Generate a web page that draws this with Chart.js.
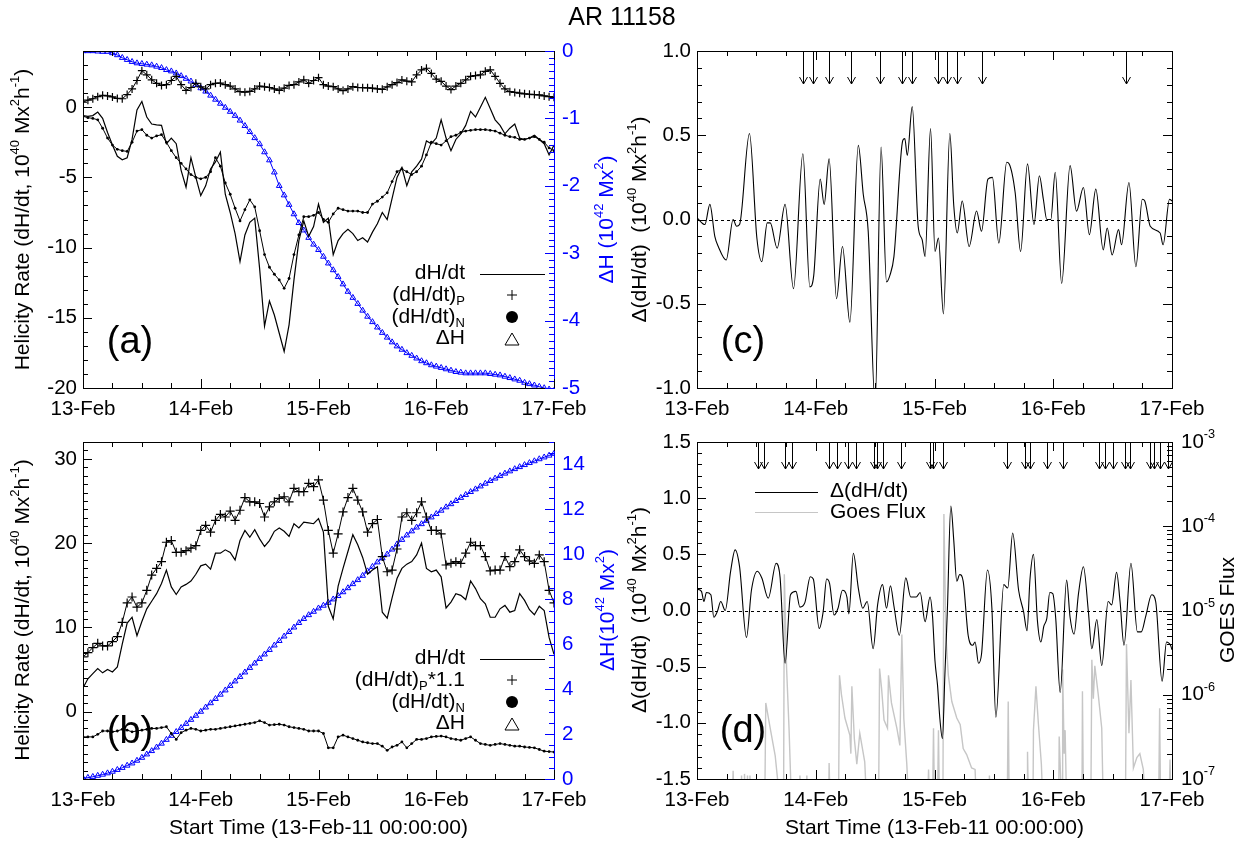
<!DOCTYPE html>
<html>
<head>
<meta charset="utf-8">
<title>AR 11158</title>
<script src="https://cdn.jsdelivr.net/npm/chart.js@4.4.1/dist/chart.umd.min.js"></script>
<style>
  html, body { margin: 0; padding: 0; background: #fff; }
  #wrap { position: relative; width: 1245px; height: 842px; overflow: hidden; background: #fff; }
  #wrap canvas { position: absolute; left: 0; top: 0; }
</style>
</head>
<body>
<div id="wrap">
  <canvas id="chartA" width="1245" height="842"></canvas>
  <canvas id="chartB" width="1245" height="842"></canvas>
  <canvas id="chartC" width="1245" height="842"></canvas>
  <canvas id="chartD" width="1245" height="842"></canvas>
</div>
<script>
// hours after 13-Feb-11 00:00, hourly samples for panels (a) and (b)
let hours = Array.from({length: 97}, (_, i) => i);
let dayTicks = [0, 24, 48, 72, 96];
let dayLabels = ['13-Feb', '14-Feb', '15-Feb', '16-Feb', '17-Feb'];

// panel (a)
let rateA = [-0.6, -0.65, -0.6, -0.35, -0.8, -1.8, -2.7, -3.5, -3.75, -3.6,
  -2.3, -0.2, 0.4, -0.7, -1.2, -1.26, -1.3, -2.6, -2.2, -2.6,
  -4.5, -5.7, -3.6, -5.0, -6.3, -5.6, -4.4, -3.9, -3.2, -6.2,
  -7.5, -9.0, -11.0, -9.1, -8.2, -7.9, -11.5, -15.6, -13.8, -14.8,
  -16.1, -17.4, -15.5, -12.3, -9.5, -8.1, -9.2, -8.5, -6.9, -8.2,
  -7.9, -10.5, -9.5, -9.0, -8.7, -9.0, -9.5, -9.3, -9.6, -8.9,
  -8.3, -7.5, -8.0, -6.5, -5.0, -4.3, -5.6, -4.6, -4.2, -3.7,
  -2.4, -2.6, -2.2, -0.9, -2.2, -3.1, -2.3, -1.9, -1.3, -0.3,
  -0.7, 0.0, 0.7, -0.1, -0.9, -1.3, -1.9, -1.5, -1.2, -2.2,
  -2.3, -2.2, -2.0, -2.3, -2.6, -3.4, -2.7];
let posA = [0.35, 0.5, 0.6, 0.75, 0.85, 0.8, 0.73, 0.62, 0.6, 0.9,
  1.3, 1.9, 2.6, 2.3, 1.95, 1.7, 1.55, 1.6, 1.9, 2.2,
  1.6, 1.2, 1.4, 1.7, 1.45, 1.3, 1.6, 1.7, 1.72, 1.6,
  1.5, 1.3, 1.1, 1.07, 1.12, 1.3, 1.5, 1.45, 1.4, 1.3,
  1.2, 1.35, 1.55, 1.6, 1.8, 1.95, 1.7, 1.9, 2.1, 1.6,
  1.5, 1.46, 1.3, 1.18, 1.3, 1.46, 1.4, 1.39, 1.38, 1.35,
  1.3, 1.27, 1.45, 1.6, 1.75, 1.94, 1.85, 1.8, 2.3, 2.65,
  2.77, 2.4, 2.0, 1.84, 1.5, 1.25, 1.5, 1.7, 1.95, 2.2,
  2.25, 2.3, 2.55, 2.65, 2.2, 1.7, 1.3, 1.1, 1.05, 1.0,
  0.95, 0.92, 0.9, 0.87, 0.8, 0.75, 0.7];
let negA = [-0.65, -0.75, -0.8, -0.9, -1.5, -2.2, -2.7, -3.0, -3.1, -3.15,
  -2.5, -1.7, -1.6, -2.0, -2.2, -2.05, -1.96, -2.5, -3.1, -3.6,
  -4.0, -4.4, -4.8, -5.0, -5.1, -5.0, -4.6, -3.6, -4.2, -5.4,
  -6.2, -7.2, -8.1, -7.3, -6.6, -7.1, -8.8, -10.5, -11.4, -11.9,
  -12.3, -12.9, -12.2, -10.5, -9.1, -7.8, -7.8, -7.7, -7.5, -8.0,
  -8.2, -7.6, -7.2, -7.3, -7.4, -7.4, -7.4, -7.5, -7.5, -6.9,
  -6.7, -6.4, -6.1, -5.3, -4.6, -4.4, -4.6, -4.8, -4.6, -4.2,
  -3.4, -2.5, -2.6, -2.7, -2.4, -2.1, -2.0, -1.8, -1.7, -1.65,
  -1.6, -1.6, -1.6, -1.65, -1.7, -1.85, -2.0, -2.1, -2.15, -2.3,
  -2.3, -2.2, -2.1, -2.3, -2.5, -2.9, -3.1];
let accA = [0, 0, 0, -0.005, -0.01, -0.01, -0.03, -0.06, -0.1, -0.13,
  -0.16, -0.18, -0.19, -0.2, -0.21, -0.23, -0.25, -0.28, -0.3, -0.33,
  -0.37, -0.41, -0.45, -0.5, -0.55, -0.6, -0.66, -0.72, -0.78, -0.84,
  -0.9, -0.96, -1.03, -1.11, -1.2, -1.29, -1.38, -1.5, -1.62, -1.8,
  -2.0, -2.14, -2.28, -2.42, -2.55, -2.66, -2.77, -2.87, -2.95, -3.05,
  -3.15, -3.25, -3.35, -3.46, -3.57, -3.66, -3.75, -3.85, -3.94, -4.02,
  -4.1, -4.18, -4.25, -4.32, -4.38, -4.43, -4.48, -4.52, -4.56, -4.6,
  -4.63, -4.66, -4.68, -4.7, -4.72, -4.74, -4.76, -4.77, -4.78, -4.78,
  -4.78, -4.78, -4.78, -4.79, -4.8, -4.81, -4.83, -4.85, -4.87, -4.89,
  -4.92, -4.94, -4.96, -4.98, -5.0, -5.02, -5.04];

// panel (b)
let rateB = [2.8, 3.9, 4.5, 5.1, 4.6, 5.0, 4.7, 5.3, 8.0, 10.5,
  11.2, 9.0, 10.7, 12.2, 13.1, 14.0, 15.2, 16.8, 14.8, 13.9,
  14.8, 15.1, 15.5, 16.3, 17.3, 17.5, 16.9, 18.8, 18.8, 19.2,
  18.9, 18.0, 20.3, 21.5, 20.7, 21.6, 20.5, 19.6, 20.3, 21.4,
  21.8, 21.4, 20.8, 22.3, 21.8, 22.5, 22.4, 22.3, 22.9, 21.3,
  12.5, 11.0, 14.9, 17.0, 19.0, 21.0, 19.8, 18.3, 16.3, 16.8,
  17.2, 11.8, 11.1, 13.5, 15.8, 17.0, 17.5, 17.8, 18.6, 20.0,
  17.0, 16.6, 16.8, 16.0, 12.3, 13.0, 14.0, 13.8, 13.3, 15.5,
  14.6, 13.4, 12.8, 11.2, 11.2, 12.2, 12.6, 11.8, 12.0, 14.0,
  13.2, 12.1, 11.5, 12.5, 12.0, 8.8, 6.8];
let posB = [6.5, 7.0, 7.6, 8.1, 7.8, 7.8, 8.3, 8.9, 10.6, 12.9,
  13.6, 12.4, 12.9, 14.4, 16.2, 17.0, 17.8, 20.1, 20.3, 18.9,
  18.9, 19.1, 19.4, 19.7, 21.5, 22.1, 21.3, 22.7, 23.4, 23.1,
  23.8, 22.7, 23.9, 25.4, 24.9, 24.9, 24.7, 23.1, 24.3, 24.9,
  25.3, 25.5, 24.9, 26.5, 26.1, 26.1, 27.1, 26.7, 27.5, 25.1,
  21.5, 18.8, 21.1, 23.7, 25.4, 26.5, 25.1, 23.7, 21.3, 22.3,
  22.8, 18.4, 16.6, 16.8, 19.3, 23.1, 23.6, 22.7, 23.6, 24.9,
  23.1, 21.5, 21.5, 21.1, 17.4, 17.6, 17.8, 17.6, 18.8, 20.1,
  19.7, 19.7, 18.4, 16.7, 16.8, 16.8, 18.4, 17.2, 17.8, 19.2,
  18.4, 17.9, 17.6, 18.6, 17.8, 14.4, 12.9];
let negB = [-3.0, -3.0, -3.0, -2.7, -2.3, -2.3, -2.4, -2.3, -2.1, -2.2,
  -2.4, -2.3, -2.2, -2.1, -2.0, -2.0, -1.9, -1.8, -2.6, -3.3,
  -2.5, -2.2, -2.0, -2.1, -2.3, -2.2, -2.1, -2.1, -2.0, -1.9,
  -1.8, -1.7, -1.6, -1.5, -1.4, -1.3, -1.1, -1.3, -1.6, -1.55,
  -1.5, -1.6, -1.8, -1.9, -2.0, -2.1, -2.3, -2.3, -2.3, -2.6,
  -4.3, -4.3, -3.0, -2.8, -3.0, -3.2, -3.4, -3.6, -3.7, -3.8,
  -3.8, -4.1, -4.6, -4.2, -4.0, -3.6, -4.3, -3.8, -3.3, -3.3,
  -3.2, -3.0, -2.95, -2.9, -3.0, -3.2, -3.3, -3.4, -3.2, -3.0,
  -3.4, -3.8, -3.9, -4.0, -3.9, -3.8, -3.9, -4.0, -4.1, -4.1,
  -4.2, -4.25, -4.3, -4.5, -4.7, -4.75, -4.8];
let accB = [0.03, 0.06, 0.1, 0.15, 0.2, 0.26, 0.33, 0.41, 0.5, 0.6,
  0.7, 0.82, 0.95, 1.1, 1.25, 1.41, 1.58, 1.75, 1.93, 2.1,
  2.28, 2.46, 2.64, 2.82, 3.0, 3.19, 3.38, 3.57, 3.76, 3.95,
  4.15, 4.35, 4.55, 4.75, 4.95, 5.15, 5.35, 5.55, 5.75, 5.95,
  6.15, 6.35, 6.55, 6.75, 6.95, 7.13, 7.3, 7.45, 7.6, 7.72,
  7.85, 8.0, 8.15, 8.32, 8.5, 8.68, 8.86, 9.05, 9.25, 9.45,
  9.65, 9.83, 10.0, 10.22, 10.45, 10.65, 10.85, 11.03, 11.2, 11.35,
  11.5, 11.65, 11.8, 11.95, 12.1, 12.24, 12.38, 12.52, 12.65, 12.78,
  12.9, 13.03, 13.15, 13.27, 13.38, 13.49, 13.6, 13.7, 13.8, 13.89,
  13.98, 14.07, 14.15, 14.24, 14.32, 14.4, 14.48];

// panel (c): turning points of delta(dH/dt)
let cHours = [0, 1.6, 2.6, 3.6, 4.3, 5.9, 7.3, 8.0, 8.6, 10.6,
  12.1, 13.1, 14.2, 14.8, 16.2, 17.8, 19.5, 21.4, 22.8, 23.6,
  24.9, 25.7, 26.7, 28.2, 29.4, 30.9, 32.6, 33.6, 34.6, 36.0,
  37.2, 38.3, 39.0, 39.8, 41.6, 42.0, 42.5, 43.5, 44.7, 45.5,
  46.1, 47.2, 48.1, 48.8, 49.8, 51.1, 51.9, 52.6, 53.6, 55.0,
  56.5, 57.5, 58.8, 59.7, 61.0, 62.6, 63.1, 64.3, 65.4, 66.8,
  68.1, 69.2, 70.0, 70.7, 71.5, 72.4, 73.7, 75.4, 76.7, 78.1,
  79.3, 80.6, 82.1, 82.9, 83.9, 85.2, 85.8, 87.3, 88.7, 90.0,
  90.5, 91.6, 93.6, 94.2, 95.5, 96.0];
let cDelta = [0.01, -0.03, 0.09, -0.1, -0.16, -0.24, 0.0, -0.04, -0.03, 0.51,
  -0.11, -0.25, -0.02, -0.02, -0.17, 0.09, -0.41, 0.39, -0.40, -0.33,
  0.24, 0.09, 0.36, -0.47, -0.16, -0.61, 0.44, 0.15, -0.07, -1.1,
  0.43, -0.37, -0.33, -0.22, 0.47, 0.48, 0.38, 0.67, -0.04, -0.12,
  -0.22, 0.54, -0.19, -0.11, -0.56, 0.51, 0.08, -0.08, 0.11, -0.16,
  0.05, -0.07, 0.24, 0.25, -0.14, 0.34, 0.33, 0.16, -0.19, 0.33,
  -0.03, 0.26, 0.12, 0.0, 0.0, 0.28, -0.38, 0.32, 0.05, 0.19,
  -0.09, 0.18, -0.18, -0.05, -0.21, -0.06, -0.15, 0.22, -0.28, 0.12,
  0.11, -0.04, -0.08, -0.15, 0.12, 0.11];
let cFlares = [21.5, 23.4, 26.7, 31.1, 36.9, 41.5, 43.4, 48.8, 50.6, 52.6, 57.5, 86.8];

// panel (d)
let dHours = [0, 0.9, 1.4, 1.9, 2.8, 3.4, 4.1, 4.8, 5.7, 6.8,
  7.7, 8.6, 10.0, 11.0, 12.2, 13.1, 14.4, 16.0, 16.8, 17.8,
  18.9, 20.0, 20.8, 21.8, 22.9, 23.5, 24.7, 25.5, 26.2, 26.8,
  27.7, 28.5, 29.4, 30.3, 30.7, 31.6, 32.6, 33.5, 34.4, 35.6,
  36.5, 37.5, 38.3, 39.1, 39.8, 40.9, 42.2, 43.2, 44.3, 45.1,
  46.1, 47.1, 47.6, 48.1, 48.6, 49.1, 49.6, 50.1, 50.6, 51.3,
  51.9, 52.5, 53.1, 53.8, 54.8, 55.7, 56.2, 56.9, 57.5, 58.7,
  59.6, 60.4, 62.0, 62.8, 63.8, 65.0, 66.0, 66.7, 67.3, 68.0,
  68.8, 69.5, 70.1, 70.7, 71.3, 71.9, 72.5, 73.4, 74.7, 75.4,
  76.2, 77.1, 78.1, 79.1, 79.8, 80.8, 81.8, 83.1, 83.8, 84.8,
  85.5, 86.3, 87.7, 89.0, 89.8, 90.7, 91.9, 92.7, 94.0, 94.9,
  95.7, 96.0];
let dDelta = [0.19, 0.17, 0.08, 0.16, 0.14, -0.06, -0.01, 0.08, 0.0, 0.35,
  0.54, 0.39, -0.24, 0.18, 0.35, 0.29, 0.11, 0.42, 0.29, -0.47,
  0.14, 0.17, 0.03, 0.07, 0.30, 0.28, -0.16, -0.01, 0.28, 0.24,
  -0.04, 0.02, 0.18, 0.12, -0.03, 0.51, 0.20, 0.02, 0.08, -0.34,
  0.05, 0.23, 0.02, 0.22, 0.04, -0.22, 0.29, 0.12, 0.12, 0.16,
  -0.10, 0.12, -0.05, -0.45, -0.66, -0.97, -1.14, -0.57, 0.0, 0.93,
  0.62, 0.26, 0.32, 0.26, -0.22, -0.31, -0.28, -0.47, -0.39, 0.36,
  0.02, -0.95, 0.23, 0.20, 0.69, 0.18, -0.01, -0.18, 0.28, 0.50,
  -0.09, -0.28, -0.14, -0.07, 0.16, 0.15, -0.07, -0.73, 0.27, -0.06,
  -0.21, 0.15, 0.39, -0.01, -0.34, -0.08, -0.49, 0.08, 0.05, 0.34,
  0.08, -0.31, 0.42, -0.19, -0.19, -0.05, 0.14, 0.08, -0.63, -0.28,
  -0.31, -0.35];
let dFlares = [12.4, 13.5, 17.7, 19.1, 26.7, 28.2, 30.6, 32.1, 35.8, 36.3, 37.5, 41.2,
  47.1, 47.6, 49.8, 62.7, 66.3, 67.4, 70.8, 73.9, 81.3, 82.5, 84.0, 86.5, 87.5,
  91.6, 92.4, 93.5, 95.1];
// GOES 1-8 A flux [hour, W/m^2]; 5e-8 sits below the 1e-7 floor
let goesFlux = [[0, 5e-8], [7.1, 5e-8], [7.3, 1.25e-7], [7.5, 5e-8], [8.9, 5e-8], [9.0, 1.1e-7],
  [9.2, 5e-8], [9.5, 5e-8], [9.6, 1.15e-7], [9.8, 5e-8], [10.1, 5e-8], [10.2, 1.1e-7],
  [10.4, 5e-8], [10.6, 5e-8], [10.7, 1.1e-7], [10.9, 5e-8], [13.7, 5e-8], [13.9, 8e-7],
  [14.8, 4e-7], [15.8, 1.9e-7], [16.8, 5e-8], [17.5, 5e-8], [17.65, 2.7e-5], [18.1, 2.1e-6],
  [18.6, 4e-7], [19.1, 5e-8], [20.7, 5e-8], [20.8, 1.1e-7], [21.0, 5e-8], [22.1, 5e-8],
  [22.2, 1.1e-7], [22.4, 5e-8], [26.6, 5e-8], [26.7, 1.55e-7], [26.9, 5e-8], [28.6, 5e-8],
  [28.8, 1.7e-6], [29.2, 1e-6], [29.9, 5.3e-7], [30.9, 3.3e-7], [31.1, 2e-7], [31.3, 1.26e-6],
  [31.8, 3e-7], [32.3, 1.5e-7], [32.9, 3.5e-7], [33.9, 1.6e-7], [34.3, 5e-8], [36.7, 5e-8],
  [36.9, 2.05e-6], [37.3, 1.2e-6], [37.8, 5e-7], [38.5, 4e-7], [38.7, 1.7e-6], [39.3, 8e-7],
  [40.4, 4e-7], [41.0, 2.5e-7], [41.4, 5.2e-6], [41.8, 5.2e-7], [42.4, 1.5e-7], [42.8, 5e-8],
  [46.6, 5e-8], [46.8, 1.3e-7], [47.0, 5e-8], [47.6, 5e-8], [47.8, 4e-7], [48.0, 5e-8],
  [48.6, 5e-8], [48.8, 3.8e-7], [49.0, 5e-8], [49.7, 5e-8], [49.9, 1.4e-4], [50.3, 5e-6],
  [50.8, 1.7e-6], [51.5, 8.3e-7], [52.5, 5.3e-7], [53.2, 4.4e-7], [53.8, 2.3e-7], [54.5, 1.95e-7],
  [55.5, 1.35e-7], [56.2, 1.3e-7], [56.5, 5e-8], [59.0, 5e-8], [59.1, 1.1e-7], [59.3, 5e-8],
  [62.7, 5e-8], [62.9, 8.3e-7], [63.1, 5e-8], [66.7, 5e-8], [66.8, 2.1e-7], [67.0, 5e-8],
  [67.9, 5e-8], [68.0, 3.8e-7], [68.5, 1.26e-6], [69.0, 4.5e-7], [69.6, 1.5e-7], [69.9, 5e-8],
  [73.1, 5e-8], [73.2, 3.2e-7], [73.5, 1e-7], [73.8, 5e-8], [73.9, 2e-6], [74.2, 2e-7],
  [74.4, 3.8e-7], [74.7, 5e-8], [77.8, 5e-8], [77.9, 1.1e-6], [78.1, 5e-8], [79.6, 5e-8],
  [79.8, 2.6e-6], [80.1, 9e-7], [80.4, 2.2e-6], [81.1, 1e-6], [81.8, 4e-7], [82.1, 5e-8],
  [86.6, 5e-8], [86.8, 4e-6], [87.3, 3.5e-7], [87.7, 1.5e-6], [88.2, 1.35e-7], [88.9, 1.8e-7],
  [89.5, 2e-7], [90.2, 1.3e-7], [90.6, 5e-8], [93.3, 5e-8], [93.5, 6.9e-7], [93.7, 5e-8],
  [95.4, 5e-8], [95.6, 1.7e-7], [95.8, 5e-8], [96, 5e-8]];
let goesDecades = [-7, -6, -5, -4, -3];

const FONT = "'Liberation Sans', Arial, Helvetica, sans-serif";
const BLUE = '#0000ff';
const GREY = '#c6c6c6';
const TICK_FS = 20.5;
const TITLE_FS = 21;

function pts(xs, ys) { return xs.map((x, i) => ({x: x, y: ys[i]})); }

// text with superscripts [t, 1] and subscripts [t, -1]
function drawRich(ctx, parts, x, y, size, color, align, angle) {
  parts = parts.map(p => typeof p === 'string' ? [p, 0] : p);
  ctx.save();
  ctx.translate(x, y);
  if (angle) ctx.rotate(angle);
  let w = 0;
  parts.forEach(([t, m]) => { ctx.font = (m ? size * 0.62 : size) + 'px ' + FONT; w += ctx.measureText(t).width; });
  let cx = align === 'center' ? -w / 2 : align === 'right' ? -w : 0;
  ctx.fillStyle = color;
  ctx.textBaseline = 'middle';
  ctx.textAlign = 'left';
  parts.forEach(([t, m]) => {
    ctx.font = (m ? size * 0.62 : size) + 'px ' + FONT;
    let dy = m === 1 ? -size * 0.36 : m === -1 ? size * 0.3 : 0;
    ctx.fillText(t, cx, dy);
    cx += ctx.measureText(t).width;
  });
  ctx.restore();
}

function seg(ctx, x1, y1, x2, y2) { ctx.moveTo(x1, y1); ctx.lineTo(x2, y2); }

function drawFrame(ctx, a, rightColor) {
  ctx.lineWidth = 1;
  ctx.strokeStyle = '#000';
  ctx.beginPath();
  ctx.moveTo(a.right, a.top + 0.5);
  ctx.lineTo(a.left + 0.5, a.top + 0.5);
  ctx.lineTo(a.left + 0.5, a.bottom + 0.5);
  ctx.lineTo(a.right, a.bottom + 0.5);
  ctx.stroke();
  ctx.strokeStyle = rightColor;
  ctx.beginPath();
  seg(ctx, a.right + 0.5, a.top, a.right + 0.5, a.bottom + 1);
  ctx.stroke();
}

function xTickMarks(ctx, chart) {
  let s = chart.scales.x, a = chart.chartArea;
  ctx.strokeStyle = '#000';
  ctx.beginPath();
  for (let h = 0; h <= 96; h += 6) {
    let px = Math.round(s.getPixelForValue(h)) + 0.5;
    let len = h % 24 === 0 ? 9 : 5;
    seg(ctx, px, a.bottom, px, a.bottom - len);
    seg(ctx, px, a.top, px, a.top + len);
  }
  ctx.stroke();
}

function yTickMarks(ctx, s, a, side, step, major, color) {
  let lo = Math.ceil(s.min / step - 1e-6), hi = Math.floor(s.max / step + 1e-6);
  ctx.strokeStyle = color;
  ctx.beginPath();
  for (let i = lo; i <= hi; i++) {
    let v = i * step, r = v / major;
    let len = Math.abs(r - Math.round(r)) < 1e-6 ? 9 : 5;
    let y = Math.round(s.getPixelForValue(v)) + 0.5;
    if (side === 'left') seg(ctx, a.left, y, a.left + len, y);
    else seg(ctx, a.right, y, a.right - len, y);
  }
  ctx.stroke();
}

function flareArrows(ctx, chart, list, len) {
  let s = chart.scales.x, top = chart.chartArea.top;
  ctx.strokeStyle = '#000';
  ctx.lineWidth = 1;
  ctx.beginPath();
  list.forEach(h => {
    let px = Math.round(s.getPixelForValue(h)) + 0.5;
    seg(ctx, px, top, px, top + len);
    ctx.moveTo(px - 4, top + len - 7);
    ctx.lineTo(px, top + len);
    ctx.lineTo(px + 4, top + len - 7);
  });
  ctx.stroke();
}

// legend used in (a) and (b)
function helicityLegend(ctx, y0, pLabel) {
  let tx = 465, sx = 512;
  drawRich(ctx, ['dH/dt'], tx, y0, TITLE_FS, '#000', 'right');
  drawRich(ctx, pLabel, tx, y0 + 22, TITLE_FS, '#000', 'right');
  drawRich(ctx, ['(dH/dt)', ['N', -1]], tx, y0 + 44, TITLE_FS, '#000', 'right');
  drawRich(ctx, ['\u0394H'], tx, y0 + 65, TITLE_FS, '#000', 'right');
  ctx.strokeStyle = '#000';
  ctx.lineWidth = 1;
  ctx.beginPath();
  seg(ctx, 480, y0 + 1.5, 545, y0 + 1.5);
  seg(ctx, sx - 5, y0 + 22, sx + 5, y0 + 22);
  seg(ctx, sx, y0 + 17, sx, y0 + 27);
  ctx.stroke();
  ctx.fillStyle = '#000';
  ctx.beginPath();
  ctx.arc(sx, y0 + 44, 6, 0, Math.PI * 2);
  ctx.fill();
  ctx.beginPath();
  ctx.moveTo(sx, y0 + 60);
  ctx.lineTo(sx + 7, y0 + 72);
  ctx.lineTo(sx - 7, y0 + 72);
  ctx.closePath();
  ctx.stroke();
}

function decor(o) {
  return {
    id: 'decor',
    beforeDatasetsDraw(chart) {
      if (!o.zero) return;
      let ctx = chart.ctx, a = chart.chartArea;
      let y = Math.round(chart.scales.y.getPixelForValue(0)) + 0.5;
      ctx.save();
      ctx.setLineDash([3, 3]);
      ctx.strokeStyle = '#000';
      ctx.lineWidth = 1;
      ctx.beginPath();
      seg(ctx, a.left, y, a.right, y);
      ctx.stroke();
      ctx.restore();
    },
    afterDatasetsDraw(chart) {
      let ctx = chart.ctx, a = chart.chartArea;
      ctx.save();
      drawFrame(ctx, a, o.rightColor || '#000');
      xTickMarks(ctx, chart);
      yTickMarks(ctx, chart.scales.y, a, 'left', o.yStep, o.yMajor, '#000');
      if (o.rightStep) yTickMarks(ctx, chart.scales.y2, a, 'right', o.rightStep, o.rightMajor, o.rightColor);
      if (o.mirror) yTickMarks(ctx, chart.scales.y, a, 'right', o.yStep, o.yMajor, '#000');
      if (o.extra) o.extra(ctx, chart, a);
      ctx.font = '38px ' + FONT;
      ctx.fillStyle = '#000';
      ctx.textAlign = 'center';
      ctx.textBaseline = 'middle';
      ctx.fillText(o.panel, o.panelX, o.panelY);
      o.titles.forEach(t => drawRich(ctx, t.parts, t.x, t.y, t.size || TITLE_FS, t.color || '#000', 'center', t.rot ? -Math.PI / 2 : 0));
      ctx.restore();
    }
  };
}

function xAxis(height) {
  return {
    type: 'linear', position: 'bottom', min: 0, max: 96,
    grid: {display: false, drawTicks: false}, border: {display: false},
    afterBuildTicks: s => { s.ticks = dayTicks.map(v => ({value: v})); },
    ticks: {autoSkip: false, maxRotation: 0, padding: 9, color: '#000',
      font: {family: FONT, size: TICK_FS},
      callback: v => dayLabels[dayTicks.indexOf(v)]},
    afterFit: s => { s.height = height; }
  };
}

function yAxis(pos, min, max, tickVals, width, color, fmt) {
  return {
    type: 'linear', position: pos, min: min, max: max,
    grid: {display: false, drawTicks: false}, border: {display: false},
    afterBuildTicks: s => { s.ticks = tickVals.map(v => ({value: v})); },
    ticks: {autoSkip: false, padding: pos === 'left' ? 6 : 8, color: color,
      font: {family: FONT, size: TICK_FS},
      callback: fmt || (v => String(v))},
    afterFit: s => { s.width = width; }
  };
}

function baseOptions(top, right, scales) {
  return {
    responsive: false, animation: false, devicePixelRatio: 1, events: [],
    layout: {padding: {top: top, left: 0, right: right, bottom: 0}},
    plugins: {legend: {display: false}, tooltip: {enabled: false}},
    elements: {line: {tension: 0}},
    scales: scales
  };
}

let rateTitle = ['Helicity Rate (dH/dt, 10', ['40', 1], ' Mx', ['2', 1], 'h', ['-1', 1], ')'];
let deltaTitle = ['\u0394(dH/dt)  (10', ['40', 1], ' Mx', ['2', 1], 'h', ['-1', 1], ')'];
let timeTitle = ['Start Time (13-Feb-11 00:00:00)'];

// (a)
new Chart(document.getElementById('chartA'), {
  type: 'line',
  data: {datasets: [
    {data: pts(hours, rateA), borderColor: '#000', borderWidth: 1.2, pointRadius: 0, yAxisID: 'y'},
    {data: pts(hours, posA), borderColor: '#000', borderWidth: 1, pointStyle: 'cross', pointRadius: 4,
      pointBorderWidth: 1.2, pointBorderColor: '#000', yAxisID: 'y'},
    {data: pts(hours, negA), borderColor: '#000', borderWidth: 1, pointStyle: 'circle', pointRadius: 1.4,
      pointBorderWidth: 0, pointBackgroundColor: '#000', yAxisID: 'y'},
    {data: pts(hours, accA), borderColor: BLUE, borderWidth: 1, pointStyle: 'triangle', pointRadius: 3.3,
      pointBorderWidth: 1, pointBorderColor: BLUE, pointBackgroundColor: 'rgba(0,0,0,0)', yAxisID: 'y2'}
  ]},
  options: baseOptions(51, 0, {
    x: xAxis(454),
    y: yAxis('left', -20, 4, [-20, -15, -10, -5, 0], 83, '#000'),
    y2: yAxis('right', -5, 0, [-5, -4, -3, -2, -1, 0], 691, BLUE)
  }),
  plugins: [decor({
    yStep: 1, yMajor: 5, rightStep: 0.1, rightMajor: 1, rightColor: BLUE,
    panel: '(a)', panelX: 130, panelY: 343,
    titles: [
      {parts: rateTitle, x: 23, y: 219.5, rot: true},
      {parts: ['\u0394H (10', ['42', 1], ' Mx', ['2', 1], ')'], x: 607, y: 219.5, rot: true, color: BLUE},
      {parts: ['AR 11158'], x: 622, y: 18, size: 25}
    ],
    extra: ctx => helicityLegend(ctx, 273, ['(dH/dt)', ['P', -1]])
  })]
});

// (b)
new Chart(document.getElementById('chartB'), {
  type: 'line',
  data: {datasets: [
    {data: pts(hours, rateB), borderColor: '#000', borderWidth: 1.2, pointRadius: 0, yAxisID: 'y'},
    {data: pts(hours, posB), borderColor: '#000', borderWidth: 1, pointStyle: 'cross', pointRadius: 4.5,
      pointBorderWidth: 1.2, pointBorderColor: '#000', yAxisID: 'y'},
    {data: pts(hours, negB), borderColor: '#000', borderWidth: 1, pointStyle: 'circle', pointRadius: 1.4,
      pointBorderWidth: 0, pointBackgroundColor: '#000', yAxisID: 'y'},
    {data: pts(hours, accB), borderColor: BLUE, borderWidth: 1, pointStyle: 'triangle', pointRadius: 3.3,
      pointBorderWidth: 1, pointBorderColor: BLUE, pointBackgroundColor: 'rgba(0,0,0,0)', yAxisID: 'y2'}
  ]},
  options: baseOptions(442, 0, {
    x: xAxis(63),
    y: yAxis('left', -8, 32, [0, 10, 20, 30], 83, '#000'),
    y2: yAxis('right', 0, 15, [0, 2, 4, 6, 8, 10, 12, 14], 691, BLUE)
  }),
  plugins: [decor({
    yStep: 1, yMajor: 10, rightStep: 0.5, rightMajor: 2, rightColor: BLUE,
    panel: '(b)', panelX: 130, panelY: 733,
    titles: [
      {parts: rateTitle, x: 23, y: 610, rot: true},
      {parts: ['\u0394H(10', ['42', 1], ' Mx', ['2', 1], ')'], x: 608, y: 610, rot: true, color: BLUE},
      {parts: timeTitle, x: 318.5, y: 828}
    ],
    extra: ctx => helicityLegend(ctx, 658, ['(dH/dt)', ['P', -1], '*1.1'])
  })]
});

// (c)
new Chart(document.getElementById('chartC'), {
  type: 'line',
  data: {datasets: [
    {data: pts(cHours, cDelta), borderColor: '#000', borderWidth: 1.1, pointRadius: 0,
      cubicInterpolationMode: 'monotone', yAxisID: 'y'}
  ]},
  options: baseOptions(51, 73, {
    x: xAxis(454),
    y: yAxis('left', -1, 1, [-1, -0.5, 0, 0.5, 1], 697, '#000', v => v.toFixed(1))
  }),
  plugins: [decor({
    zero: true, yStep: 0.1, yMajor: 0.5, mirror: true,
    panel: '(c)', panelX: 743, panelY: 343,
    titles: [{parts: deltaTitle, x: 640, y: 219.5, rot: true}],
    extra: (ctx, chart) => flareArrows(ctx, chart, cFlares, 33)
  })]
});

// (d)
new Chart(document.getElementById('chartD'), {
  type: 'line',
  data: {datasets: [
    {data: pts(dHours, dDelta), borderColor: '#000', borderWidth: 1.1, pointRadius: 0,
      cubicInterpolationMode: 'monotone', yAxisID: 'y'},
    {data: goesFlux.map(p => ({x: p[0], y: p[1]})), borderColor: GREY, borderWidth: 1.4, pointRadius: 0, yAxisID: 'y2'}
  ]},
  options: baseOptions(442, 0, {
    x: xAxis(63),
    y: yAxis('left', -1.5, 1.5, [-1.5, -1, -0.5, 0, 0.5, 1, 1.5], 697, '#000', v => v.toFixed(1)),
    y2: {type: 'logarithmic', position: 'right', min: 1e-7, max: 1e-3,
      grid: {display: false, drawTicks: false}, border: {display: false},
      ticks: {display: false}, afterFit: s => { s.width = 73; }}
  }),
  plugins: [decor({
    zero: true, yStep: 0.1, yMajor: 0.5,
    panel: '(d)', panelX: 743, panelY: 732,
    titles: [
      {parts: deltaTitle, x: 640, y: 610, rot: true},
      {parts: ['GOES Flux'], x: 1228, y: 610, rot: true},
      {parts: timeTitle, x: 934.5, y: 828}
    ],
    extra: (ctx, chart, a) => {
      let s = chart.scales.y2;
      // log minor/major ticks on the right edge
      ctx.strokeStyle = '#000';
      ctx.beginPath();
      goesDecades.forEach(d => {
        for (let m = 1; m <= 9; m++) {
          if (d === -3 && m > 1) break;
          let y = Math.round(s.getPixelForValue(m * Math.pow(10, d))) + 0.5;
          seg(ctx, a.right, y, a.right - (m === 1 ? 9 : 5), y);
        }
      });
      ctx.stroke();
      goesDecades.forEach(d => {
        drawRich(ctx, ['10', [String(d), 1]], a.right + 9, s.getPixelForValue(Math.pow(10, d)), TICK_FS, '#000', 'left');
      });
      flareArrows(ctx, chart, dFlares, 27);
      // legend
      ctx.lineWidth = 1.2;
      ctx.strokeStyle = '#000';
      ctx.beginPath(); seg(ctx, 755, 492.5, 818, 492.5); ctx.stroke();
      ctx.strokeStyle = GREY;
      ctx.beginPath(); seg(ctx, 755, 512.5, 818, 512.5); ctx.stroke();
      drawRich(ctx, ['\u0394(dH/dt)'], 830, 491, TITLE_FS, '#000', 'left');
      drawRich(ctx, ['Goes Flux'], 830, 512, TITLE_FS, '#000', 'left');
    }
  })]
});
</script>
</body>
</html>
